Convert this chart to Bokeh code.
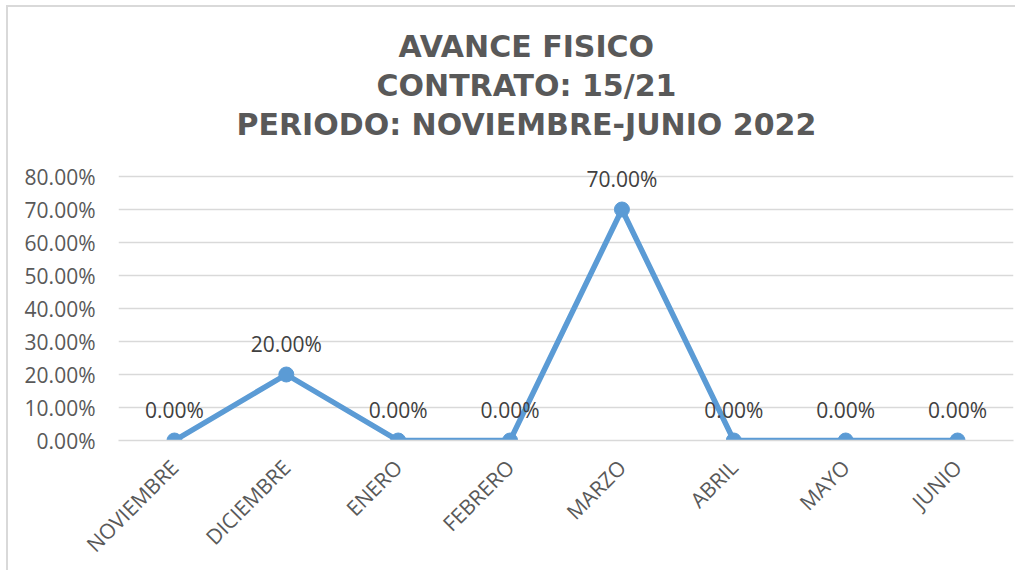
from bokeh.plotting import figure
from bokeh.models import (ColumnDataSource, Range1d, FixedTicker, NumeralTickFormatter,
                          LabelSet, Title)
from bokeh.core.properties import value
from bokeh.embed import file_html
from bokeh.resources import INLINE
import math

# ---- data ----
months = ["NOVIEMBRE", "DICIEMBRE", "ENERO", "FEBRERO", "MARZO", "ABRIL", "MAYO", "JUNIO"]
avance = [0.0, 0.20, 0.0, 0.0, 0.70, 0.0, 0.0, 0.0]
y_ticks = [0.0, 0.1, 0.2, 0.3, 0.4, 0.5, 0.6, 0.7, 0.8]
title_lines = ["AVANCE FISICO", "CONTRATO: 15/21", "PERIODO: NOVIEMBRE-JUNIO 2022"]

labels = ["{:.2f}%".format(v * 100) for v in avance]
src = ColumnDataSource(dict(m=months, v=avance, lab=labels))

BLUE = "#5B9BD5"
GRID = "#D9D9D9"
TXT = "#595959"
FS = "21px"

p = figure(x_range=months, y_range=Range1d(0, 0.9), width=1015, height=570,
           output_backend="svg", toolbar_location=None,
           min_border_left=118, min_border_right=2, min_border_top=143, min_border_bottom=129,
           background_fill_color="white", border_fill_color=None)
p.outline_line_color = None
# light grey chart border (left and top edges, as in the reference)
p.styles = {
    "background": ("linear-gradient(#D9D9D9,#D9D9D9) 6px 5px / 2px 100% no-repeat, "
                   "linear-gradient(#D9D9D9,#D9D9D9) 6px 5px / 100% 2px no-repeat, white"),
}

p.line("m", "v", source=src, line_color=BLUE, line_width=5.5, line_join="round")
p.scatter("m", "v", source=src, size=15, fill_color=BLUE, line_color=BLUE)

ls = LabelSet(x="m", y="v", text="lab", source=src, y_offset=31, text_align="center",
              text_baseline="middle", text_font=value("Open Sans"), text_font_size=FS,
              text_color="#404040")
p.add_layout(ls)

# axes
p.yaxis.ticker = FixedTicker(ticks=y_ticks)
p.yaxis.formatter = NumeralTickFormatter(format="0.00%")
p.yaxis.axis_line_color = None
p.yaxis.major_tick_line_color = None
p.yaxis.minor_tick_line_color = None
p.yaxis.major_tick_out = 0
p.yaxis.major_tick_in = 0
p.yaxis.major_label_standoff = 23
p.yaxis.major_label_text_font = "Open Sans"
p.yaxis.major_label_text_font_size = FS
p.yaxis.major_label_text_color = TXT

p.xaxis.axis_line_color = GRID
p.xaxis.axis_line_width = 1.5
p.xaxis.major_tick_line_color = None
p.xaxis.minor_tick_line_color = None
p.xaxis.major_tick_out = 0
p.xaxis.major_tick_in = 0
p.xaxis.major_label_orientation = math.pi / 4
p.xaxis.major_label_standoff = 23
p.xaxis.major_label_text_font = "Open Sans"
p.xaxis.major_label_text_font_size = FS
p.xaxis.major_label_text_color = TXT

p.xgrid.grid_line_color = None
p.ygrid.grid_line_color = GRID
p.ygrid.grid_line_width = 1.5

# title lines (added bottom-up: the first one added sits next to the plot area)
offsets = [280, 258, 118]
for t, off in reversed(list(zip(title_lines, offsets))):
    p.add_layout(Title(text=t, align="left", offset=off, standoff=2.3,
                       text_font="DejaVu Sans", text_font_style="bold",
                       text_font_size="30px", text_color=TXT), "above")

open("out.html", "w").write(file_html(p, INLINE))
